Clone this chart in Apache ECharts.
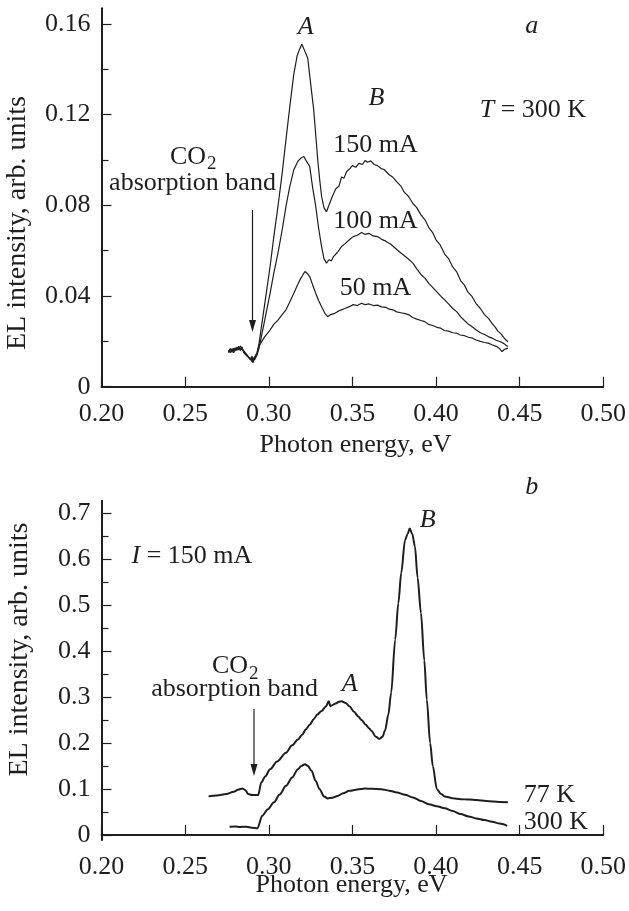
<!DOCTYPE html>
<html>
<head>
<meta charset="utf-8">
<script src="https://cdn.jsdelivr.net/npm/echarts@6/dist/echarts.min.js"></script>
<style>
  html, body { margin: 0; padding: 0; background: #fff; }
  #chart { width: 629px; height: 911px; }
</style>
</head>
<body>
<div id="chart"></div>
<script>
// tick values
var xTicks = [0.20, 0.25, 0.30, 0.35, 0.40, 0.45, 0.50];
var yTicksA = [0, 0.04, 0.08, 0.12, 0.16];
var yMinorA = [0.02, 0.06, 0.10, 0.14];
var yTicksB = [0, 0.1, 0.2, 0.3, 0.4, 0.5, 0.6, 0.7];
var yMinorB = [0.05, 0.15, 0.25, 0.35, 0.45, 0.55, 0.65];

// panel a, T = 300 K  [photon energy eV, intensity]
var curve150 = [
  [0.2759,0.0150],[0.2770,0.0165],[0.2780,0.0152],[0.2790,0.0170],[0.2800,0.0158],[0.2810,0.0175],
  [0.2820,0.0162],[0.2830,0.0180],[0.2840,0.0166],[0.2850,0.0158],[0.2860,0.0150],[0.2870,0.0140],
  [0.2880,0.0132],[0.2890,0.0118],[0.2900,0.0135],[0.2905,0.0112],[0.2915,0.0130],[0.2930,0.0150],
  [0.2942,0.0192],[0.2975,0.0360],[0.3008,0.0530],[0.3030,0.0660],[0.3055,0.0795],[0.3080,0.0940],
  [0.3103,0.1090],[0.3125,0.1230],[0.3150,0.1380],[0.3170,0.1460],[0.3185,0.1490],[0.3198,0.1510],
  [0.3210,0.1490],[0.3233,0.1450],[0.3250,0.1340],[0.3269,0.1220],[0.3281,0.1110],[0.3293,0.1000],
  [0.3305,0.0910],[0.3316,0.0840],[0.3330,0.0790],[0.3345,0.0772],[0.3360,0.0800],[0.3375,0.0830],
  [0.3387,0.0850],[0.3400,0.0872],[0.3420,0.0885],[0.3435,0.0925],[0.3450,0.0920],[0.3465,0.0948],
  [0.3482,0.0960],[0.3500,0.0975],[0.3520,0.0968],[0.3540,0.0985],[0.3560,0.0980],[0.3577,0.0998],
  [0.3590,0.0990],[0.3610,0.0996],[0.3630,0.0980],[0.3650,0.0975],[0.3672,0.0962],[0.3690,0.0958],
  [0.3720,0.0935],[0.3740,0.0925],[0.3767,0.0902],[0.3790,0.0885],[0.3810,0.0858],[0.3835,0.0840],
  [0.3862,0.0808],[0.3885,0.0790],[0.3910,0.0758],[0.3935,0.0735],[0.3957,0.0702],[0.3980,0.0680],
  [0.4000,0.0648],[0.4025,0.0625],[0.4052,0.0585],[0.4075,0.0565],[0.4100,0.0528],[0.4125,0.0505],
  [0.4147,0.0468],[0.4170,0.0448],[0.4190,0.0418],[0.4215,0.0398],[0.4241,0.0365],[0.4265,0.0345],
  [0.4290,0.0318],[0.4315,0.0300],[0.4336,0.0278],[0.4355,0.0262],[0.4370,0.0245],[0.4390,0.0232],
  [0.4407,0.0215],[0.4420,0.0205],[0.4430,0.0198]
];
var curve100 = [
  [0.2759,0.0160],[0.2770,0.0150],[0.2780,0.0168],[0.2790,0.0158],[0.2800,0.0172],[0.2810,0.0160],
  [0.2820,0.0178],[0.2830,0.0165],[0.2840,0.0175],[0.2850,0.0150],[0.2860,0.0158],[0.2870,0.0135],
  [0.2880,0.0140],[0.2890,0.0125],[0.2900,0.0110],[0.2905,0.0128],[0.2915,0.0118],[0.2930,0.0140],
  [0.2942,0.0170],[0.2975,0.0290],[0.3008,0.0412],[0.3030,0.0500],[0.3055,0.0589],[0.3080,0.0690],
  [0.3103,0.0795],[0.3125,0.0880],[0.3150,0.0957],[0.3175,0.0995],[0.3195,0.1010],[0.3210,0.1015],
  [0.3225,0.0995],[0.3245,0.0971],[0.3262,0.0880],[0.3281,0.0795],[0.3298,0.0700],[0.3316,0.0618],
  [0.3330,0.0565],[0.3345,0.0545],[0.3360,0.0560],[0.3375,0.0555],[0.3387,0.0574],[0.3410,0.0592],
  [0.3435,0.0618],[0.3455,0.0630],[0.3482,0.0648],[0.3505,0.0662],[0.3530,0.0668],[0.3555,0.0680],
  [0.3575,0.0672],[0.3600,0.0676],[0.3625,0.0665],[0.3650,0.0662],[0.3675,0.0650],[0.3700,0.0642],
  [0.3730,0.0628],[0.3767,0.0604],[0.3790,0.0590],[0.3815,0.0575],[0.3840,0.0560],[0.3862,0.0545],
  [0.3885,0.0520],[0.3910,0.0495],[0.3935,0.0478],[0.3957,0.0456],[0.3980,0.0438],[0.4005,0.0418],
  [0.4030,0.0398],[0.4052,0.0383],[0.4075,0.0365],[0.4100,0.0345],[0.4125,0.0330],[0.4147,0.0309],
  [0.4170,0.0292],[0.4195,0.0275],[0.4220,0.0262],[0.4241,0.0250],[0.4265,0.0238],[0.4290,0.0230],
  [0.4315,0.0220],[0.4336,0.0214],[0.4360,0.0205],[0.4385,0.0198],[0.4407,0.0190],[0.4420,0.0182],
  [0.4430,0.0177]
];
var curve50 = [
  [0.2759,0.0155],[0.2770,0.0168],[0.2780,0.0160],[0.2790,0.0150],[0.2800,0.0165],[0.2810,0.0168],
  [0.2820,0.0172],[0.2830,0.0160],[0.2840,0.0170],[0.2850,0.0162],[0.2860,0.0145],[0.2870,0.0148],
  [0.2880,0.0128],[0.2890,0.0135],[0.2900,0.0120],[0.2905,0.0105],[0.2915,0.0125],[0.2930,0.0150],
  [0.2942,0.0180],[0.2975,0.0220],[0.3008,0.0250],[0.3030,0.0275],[0.3055,0.0294],[0.3080,0.0318],
  [0.3103,0.0339],[0.3125,0.0372],[0.3150,0.0412],[0.3170,0.0445],[0.3186,0.0471],[0.3200,0.0488],
  [0.3216,0.0508],[0.3230,0.0500],[0.3245,0.0486],[0.3262,0.0450],[0.3281,0.0412],[0.3298,0.0380],
  [0.3316,0.0353],[0.3335,0.0325],[0.3352,0.0309],[0.3370,0.0318],[0.3390,0.0322],[0.3411,0.0331],
  [0.3430,0.0338],[0.3455,0.0345],[0.3482,0.0353],[0.3505,0.0362],[0.3530,0.0358],[0.3555,0.0368],
  [0.3575,0.0362],[0.3600,0.0365],[0.3625,0.0358],[0.3650,0.0360],[0.3675,0.0352],[0.3700,0.0350],
  [0.3720,0.0342],[0.3743,0.0339],[0.3765,0.0330],[0.3790,0.0326],[0.3815,0.0322],[0.3838,0.0317],
  [0.3860,0.0305],[0.3885,0.0298],[0.3910,0.0292],[0.3933,0.0287],[0.3955,0.0275],[0.3980,0.0270],
  [0.4005,0.0262],[0.4028,0.0258],[0.4050,0.0248],[0.4075,0.0245],[0.4100,0.0238],[0.4123,0.0236],
  [0.4145,0.0228],[0.4170,0.0225],[0.4195,0.0218],[0.4218,0.0214],[0.4240,0.0206],[0.4265,0.0200],
  [0.4290,0.0195],[0.4312,0.0192],[0.4335,0.0185],[0.4360,0.0178],[0.4380,0.0168],[0.4395,0.0155],
  [0.4410,0.0165],[0.4430,0.0170]
];

// panel b, I = 150 mA
var curve77K = [
  [0.2640,0.0840],[0.2690,0.0860],[0.2747,0.0890],[0.2790,0.0940],[0.2820,0.0990],[0.2842,0.1010],
  [0.2860,0.0980],[0.2877,0.0890],[0.2900,0.0870],[0.2937,0.0868],[0.2955,0.1140],[0.2980,0.1280],
  [0.3008,0.1430],[0.3050,0.1600],[0.3103,0.1790],[0.3140,0.1950],[0.3174,0.2080],[0.3200,0.2180],
  [0.3222,0.2300],[0.3245,0.2400],[0.3269,0.2520],[0.3290,0.2620],[0.3316,0.2700],[0.3340,0.2790],
  [0.3359,0.2910],[0.3368,0.2800],[0.3376,0.2820],[0.3400,0.2860],[0.3420,0.2900],[0.3435,0.2910],
  [0.3460,0.2870],[0.3482,0.2800],[0.3510,0.2680],[0.3535,0.2580],[0.3555,0.2500],[0.3580,0.2400],
  [0.3600,0.2320],[0.3613,0.2270],[0.3640,0.2140],[0.3661,0.2090],[0.3680,0.2140],[0.3696,0.2280],
  [0.3715,0.2620],[0.3732,0.3100],[0.3756,0.4250],[0.3775,0.5050],[0.3792,0.5700],[0.3815,0.6420],
  [0.3830,0.6550],[0.3843,0.6670],[0.3858,0.6550],[0.3874,0.6280],[0.3890,0.5600],[0.3910,0.4830],
  [0.3930,0.3800],[0.3945,0.2950],[0.3965,0.2000],[0.3981,0.1500],[0.4005,0.0998],[0.4030,0.0890],
  [0.4052,0.0840],[0.4100,0.0800],[0.4147,0.0780],[0.4200,0.0770],[0.4241,0.0760],[0.4300,0.0740],
  [0.4380,0.0720],[0.4430,0.0710]
];
var curve300K = [
  [0.2766,0.0180],[0.2800,0.0185],[0.2830,0.0175],[0.2865,0.0180],[0.2900,0.0160],[0.2932,0.0145],
  [0.2961,0.0420],[0.2995,0.0560],[0.3031,0.0710],[0.3065,0.0880],[0.3103,0.1070],[0.3140,0.1250],
  [0.3174,0.1430],[0.3195,0.1500],[0.3216,0.1540],[0.3235,0.1500],[0.3257,0.1390],[0.3280,0.1180],
  [0.3304,0.0998],[0.3330,0.0840],[0.3352,0.0796],[0.3380,0.0810],[0.3411,0.0850],[0.3445,0.0910],
  [0.3482,0.0960],[0.3530,0.0990],[0.3577,0.1010],[0.3620,0.1005],[0.3672,0.0998],[0.3720,0.0965],
  [0.3767,0.0926],[0.3815,0.0875],[0.3862,0.0818],[0.3910,0.0740],[0.3957,0.0670],[0.4005,0.0625],
  [0.4052,0.0580],[0.4100,0.0520],[0.4147,0.0456],[0.4195,0.0405],[0.4241,0.0360],[0.4290,0.0325],
  [0.4336,0.0290],[0.4380,0.0250],[0.4426,0.0200]
];

var ink = '#1e1e1e';
var serif = '"Liberation Serif", "DejaVu Serif", serif';

function xAxisOf(gridIndex){
    return {
        type: 'value', gridIndex: gridIndex, min: 0.2, max: 0.5,
        axisLine: {lineStyle: {color: ink, width: 2}},
        axisTick: {inside: true, length: 10, customValues: xTicks, lineStyle: {color: ink, width: 1.2}},
        axisLabel: {customValues: xTicks, margin: 14, color: ink, fontFamily: serif, fontSize: 26,
            formatter: function(v){ return v.toFixed(2); }},
        splitLine: {show: false}
    };
}
function yAxisOf(gridIndex, min, max, ticks, digits){
    return {
        type: 'value', gridIndex: gridIndex, min: min, max: max,
        axisLine: {show: true, lineStyle: {color: ink, width: 2}},
        axisTick: {inside: true, length: 10, customValues: ticks, lineStyle: {color: ink, width: 1.2}},
        axisLabel: {customValues: ticks, margin: 11, color: ink, fontFamily: serif, fontSize: 26,
            formatter: function(v){ return Math.abs(v) < 1e-9 ? '0' : v.toFixed(digits); }},
        splitLine: {show: false}
    };
}
function minorAxisOf(gridIndex, min, max, ticks){
    return {
        type: 'value', gridIndex: gridIndex, min: min, max: max, position: 'left',
        axisLine: {show: false},
        axisTick: {inside: true, length: 7, customValues: ticks, lineStyle: {color: ink, width: 1.2}},
        axisLabel: {show: false},
        splitLine: {show: false}
    };
}
function lineSeries(data, xi, yi, width, smooth){
    return {
        type: 'line', data: data, xAxisIndex: xi, yAxisIndex: yi,
        showSymbol: false, smooth: smooth, smoothMonotone: 'x', silent: true,
        lineStyle: {color: ink, width: width}
    };
}
function txt(x, y, text, opts){
    opts = opts || {};
    return {
        type: 'text', x: x, y: y, rotation: opts.rotation || 0, silent: true,
        style: {
            text: text, fill: ink, font: (opts.italic ? 'italic ' : '') + (opts.size || 26) + 'px ' + serif,
            align: opts.align || 'center', verticalAlign: 'middle'
        }
    };
}
function richTxt(x, y, italicPart, rest){
    return {
        type: 'text', x: x, y: y, silent: true,
        style: {
            text: '{i|' + italicPart + '}{n|' + rest + '}',
            align: 'left', verticalAlign: 'middle',
            rich: {
                i: {fontFamily: serif, fontSize: 26, fontStyle: 'italic', fill: ink},
                n: {fontFamily: serif, fontSize: 26, fill: ink}
            }
        }
    };
}
function arrow(x, y1, y2){
    return [
        {type: 'line', silent: true, shape: {x1: x, y1: y1, x2: x, y2: y2 - 10}, style: {stroke: ink, lineWidth: 1.2}},
        {type: 'polygon', silent: true, shape: {points: [[x - 3.5, y2 - 12], [x + 3.5, y2 - 12], [x, y2]]}, style: {fill: ink}}
    ];
}

var chart = echarts.init(document.getElementById('chart'), null, {renderer: 'canvas'});

var graphics = [
    // panel a
    txt(305.6, 27, 'A', {italic: true}),
    txt(531.7, 26, 'a', {italic: true}),
    txt(376.4, 98, 'B', {italic: true}),
    richTxt(479.7, 110, 'T', ' = 300 K'),
    txt(375.6, 145, '150 mA'),
    txt(375.6, 221.5, '100 mA'),
    txt(375.6, 288, '50 mA'),
    txt(170, 157, 'CO', {align: 'left'}),
    txt(207, 164, '2', {align: 'left', size: 19}),
    txt(192.5, 183, 'absorption band'),
    txt(18, 223, 'EL intensity, arb. units', {rotation: Math.PI / 2, size: 28}),
    txt(355.6, 445, 'Photon energy, eV'),
    // panel b
    txt(531.7, 487, 'b', {italic: true}),
    txt(427.7, 520, 'B', {italic: true}),
    richTxt(131.5, 556.5, 'I', ' = 150 mA'),
    txt(212, 666, 'CO', {align: 'left'}),
    txt(249, 674, '2', {align: 'left', size: 19}),
    txt(234.6, 689.4, 'absorption band'),
    txt(349.6, 684.4, 'A', {italic: true}),
    txt(523.7, 795, '77 K', {align: 'left'}),
    txt(523.7, 822, '300 K', {align: 'left'}),
    txt(19.5, 649.5, 'EL intensity, arb. units', {rotation: Math.PI / 2, size: 28}),
    txt(351.6, 885, 'Photon energy, eV')
].concat(arrow(252.5, 210, 332)).concat(arrow(254, 709, 776));

var option = {
    backgroundColor: '#fff',
    animation: false,
    grid: [
        {left: 101.5, right: 21.3, top: 8.3, bottom: 524.3},
        {left: 101.5, right: 21.3, top: 500.7, bottom: 71}
    ],
    xAxis: [xAxisOf(0), xAxisOf(1)],
    yAxis: [
        yAxisOf(0, 0, 0.1669, yTicksA, 2),
        minorAxisOf(0, 0, 0.1669, yMinorA),
        yAxisOf(1, -0.0109, 0.7274, yTicksB, 1),
        minorAxisOf(1, -0.0109, 0.7274, yMinorB)
    ],
    series: [
        lineSeries(curve150, 0, 0, 1.2, false),
        lineSeries(curve100, 0, 0, 1.2, false),
        lineSeries(curve50, 0, 0, 1.2, false),
        lineSeries(curve77K, 1, 2, 2, 0.3),
        lineSeries(curve300K, 1, 2, 2, 0.3)
    ],
    graphic: graphics
};
chart.setOption(option);
window.onresize = function(){
    chart.resize();
};
</script>
</body>
</html>
